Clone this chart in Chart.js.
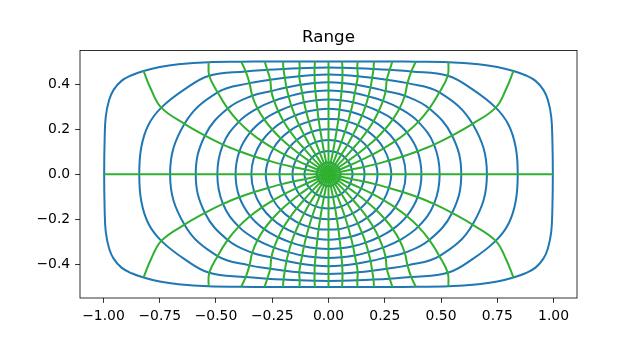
<!DOCTYPE html>
<html lang="en">
<head>
<meta charset="UTF-8">
<title>Range</title>
<style>
  body { margin: 0; background: #fff; }
  canvas { display: block; }
</style>
<script src="https://cdn.jsdelivr.net/npm/chart.js"></script>
</head>
<body>
<canvas id="chart" width="640" height="344"></canvas>
<script>
// Crossings of the circles (rows, inner to outer) with the rays (columns, 0° .. 90° in 11.25° steps),
// first quadrant only; the other three are mirrored.
const crossX = [
    [0.053, 0.051, 0.048, 0.043, 0.037, 0.029, 0.020, 0.010, 0],
    [0.107, 0.103, 0.097, 0.086, 0.073, 0.057, 0.039, 0.020, 0],
    [0.160, 0.156, 0.145, 0.129, 0.108, 0.084, 0.057, 0.029, 0],
    [0.218, 0.211, 0.195, 0.171, 0.141, 0.108, 0.073, 0.037, 0],
    [0.279, 0.268, 0.245, 0.212, 0.172, 0.130, 0.087, 0.044, 0],
    [0.343, 0.330, 0.296, 0.250, 0.200, 0.149, 0.099, 0.049, 0],
    [0.413, 0.396, 0.348, 0.286, 0.223, 0.165, 0.109, 0.054, 0],
    [0.494, 0.469, 0.399, 0.316, 0.242, 0.177, 0.117, 0.058, 0],
    [0.590, 0.549, 0.448, 0.339, 0.254, 0.187, 0.124, 0.061, 0],
    [0.704, 0.640, 0.493, 0.351, 0.259, 0.194, 0.130, 0.062, 0],
    [0.841, 0.743, 0.530, 0.368, 0.272, 0.200, 0.128, 0.062, 0],
    [0.997, 0.822, 0.533, 0.388, 0.284, 0.202, 0.129, 0.060, 0]
];
const crossY = [
    [0, 0.010, 0.020, 0.029, 0.037, 0.043, 0.048, 0.051, 0.052],
    [0, 0.021, 0.041, 0.059, 0.074, 0.087, 0.096, 0.101, 0.103],
    [0, 0.032, 0.063, 0.090, 0.113, 0.130, 0.143, 0.150, 0.152],
    [0, 0.045, 0.087, 0.123, 0.152, 0.174, 0.189, 0.198, 0.200],
    [0, 0.061, 0.115, 0.159, 0.193, 0.218, 0.234, 0.244, 0.246],
    [0, 0.079, 0.147, 0.199, 0.236, 0.261, 0.278, 0.287, 0.291],
    [0, 0.102, 0.186, 0.244, 0.280, 0.304, 0.320, 0.329, 0.332],
    [0, 0.132, 0.233, 0.293, 0.326, 0.346, 0.361, 0.369, 0.372],
    [0, 0.172, 0.292, 0.349, 0.370, 0.386, 0.398, 0.406, 0.409],
    [0, 0.224, 0.364, 0.405, 0.420, 0.429, 0.436, 0.441, 0.443],
    [0, 0.296, 0.438, 0.457, 0.464, 0.468, 0.471, 0.473, 0.474],
    [0, 0.459, 0.498, 0.500, 0.501, 0.501, 0.501, 0.501, 0.501]
];

// extra points on the two outer circles where they turn the corner (key = ray they follow)
const ring11Extra = { 0: [[0.832, 0.12], [0.80, 0.22]], 1: [[0.64, 0.377]] };
const ring12Extra = {
    0: [[0.995, 0.15], [0.99, 0.255], [0.975, 0.33], [0.955, 0.375], [0.92, 0.415], [0.875, 0.44]],
    1: [[0.75, 0.477], [0.667, 0.489]]
};
// first ray, between the last two circles
const ray1Extra = [0.79, 0.38];

const xTicks = [-1, -0.75, -0.5, -0.25, 0, 0.25, 0.5, 0.75, 1];
const yTicks = [-0.4, -0.2, 0, 0.2, 0.4];

const BLUE = '#1f77b4';
const GREEN = '#30b030';

const flip = (sx, sy) => p => ({ x: sx * p.x, y: sy * p.y });

function quarterRing(k) {
    const extra = k === 10 ? ring11Extra : k === 11 ? ring12Extra : {};
    const pts = [];
    for (let j = 0; j < 9; j++) {
        pts.push({ x: crossX[k][j], y: crossY[k][j] });
        (extra[j] || []).forEach(p => pts.push({ x: p[0], y: p[1] }));
    }
    return pts;
}

// full circle, counter-clockwise from the positive x axis, without repeating the start
function fullRing(k) {
    const q = quarterRing(k);
    const rev = q.slice().reverse();
    return [
        ...q,
        ...rev.slice(1).map(flip(-1, 1)),
        ...q.slice(1).map(flip(-1, -1)),
        ...rev.slice(1, -1).map(flip(1, -1))
    ];
}

function quarterRay(j) {
    const pts = [{ x: 0, y: 0 }];
    for (let k = 0; k < crossX.length; k++) {
        if (j === 1 && k === crossX.length - 1) pts.push({ x: ray1Extra[0], y: ray1Extra[1] });
        pts.push({ x: crossX[k][j], y: crossY[k][j] });
    }
    return pts;
}

const datasets = [];
const line = (data, color, order) => ({
    data, borderColor: color, borderWidth: 2, showLine: true,
    pointRadius: 0, tension: 0.4, fill: false, order
});

for (let k = 0; k < crossX.length; k++) {
    datasets.push(Object.assign(line(fullRing(k), BLUE, 1), { closed: true }));
}

const last = crossX.length - 1;
datasets.push(line([{ x: -crossX[last][0], y: 0 }, { x: crossX[last][0], y: 0 }], GREEN, 0));
datasets.push(line([{ x: 0, y: -crossY[last][8] }, { x: 0, y: crossY[last][8] }], GREEN, 0));
for (let j = 1; j < 8; j++) {
    const r = quarterRay(j);
    [[1, 1], [-1, 1], [-1, -1], [1, -1]].forEach(([sx, sy]) => {
        datasets.push(line(r.map(flip(sx, sy)), GREEN, 0));
    });
}

const minus = s => s.replace('-', '\u2212');

// close the circle datasets into smooth loops, the way radar lines are closed
const loops = {
    id: 'loops',
    afterDatasetsUpdate(chart) {
        chart.data.datasets.forEach((ds, i) => {
            if (!ds.closed) return;
            const el = chart.getDatasetMeta(i).dataset;
            if (!el) return;
            el._loop = true;
            el._fullLoop = true;
            el._pointsUpdated = false;
            delete el._segments;
            delete el._path;
        });
    }
};

// matplotlib-style box around the axes, and the title over its centre
const frame = {
    id: 'frame',
    afterDatasetsDraw(chart) {
        const { ctx, chartArea: a } = chart;
        ctx.save();
        ctx.strokeStyle = '#000';
        ctx.lineWidth = 0.8;
        ctx.strokeRect(a.left, a.top, a.right - a.left, a.bottom - a.top);
        ctx.fillStyle = '#000';
        ctx.font = '16.7px "DejaVu Sans"';
        ctx.textAlign = 'center';
        ctx.textBaseline = 'alphabetic';
        ctx.fillText('Range', (a.left + a.right) / 2, a.top - 8.3);
        ctx.restore();
    }
};

const tickFont = { family: 'DejaVu Sans', size: 13.9 };

new Chart(document.getElementById('chart'), {
    type: 'scatter',
    data: { datasets },
    plugins: [loops, frame],
    options: {
        responsive: false,
        animation: false,
        devicePixelRatio: 1,
        events: [],
        layout: { padding: { left: 0, right: 63, top: 50.5, bottom: 0 } },
        plugins: {
            legend: { display: false },
            tooltip: { enabled: false },
            title: { display: false }
        },
        scales: {
            x: {
                type: 'linear',
                min: -1.1044,
                max: 1.1044,
                afterBuildTicks: s => { s.ticks = xTicks.map(v => ({ value: v })); },
                afterFit: s => { s.height = 46; s.paddingLeft = 0; s.paddingRight = 0; },
                grid: { drawOnChartArea: false, drawTicks: true, tickLength: 4.9, tickColor: '#000', tickWidth: 0.8 },
                border: { display: false },
                ticks: {
                    color: '#000', font: tickFont, padding: 4.9, maxRotation: 0, autoSkip: false,
                    callback: v => minus(v.toFixed(2))
                }
            },
            y: {
                type: 'linear',
                min: -0.55,
                max: 0.55,
                afterBuildTicks: s => { s.ticks = yTicks.map(v => ({ value: v })); },
                afterFit: s => { s.width = 80; s.paddingTop = 0; s.paddingBottom = 0; },
                grid: { drawOnChartArea: false, drawTicks: true, tickLength: 4.9, tickColor: '#000', tickWidth: 0.8 },
                border: { display: false },
                ticks: {
                    color: '#000', font: tickFont, padding: 4.9, autoSkip: false,
                    callback: v => minus(v.toFixed(1))
                }
            }
        }
    }
});
</script>
</body>
</html>
